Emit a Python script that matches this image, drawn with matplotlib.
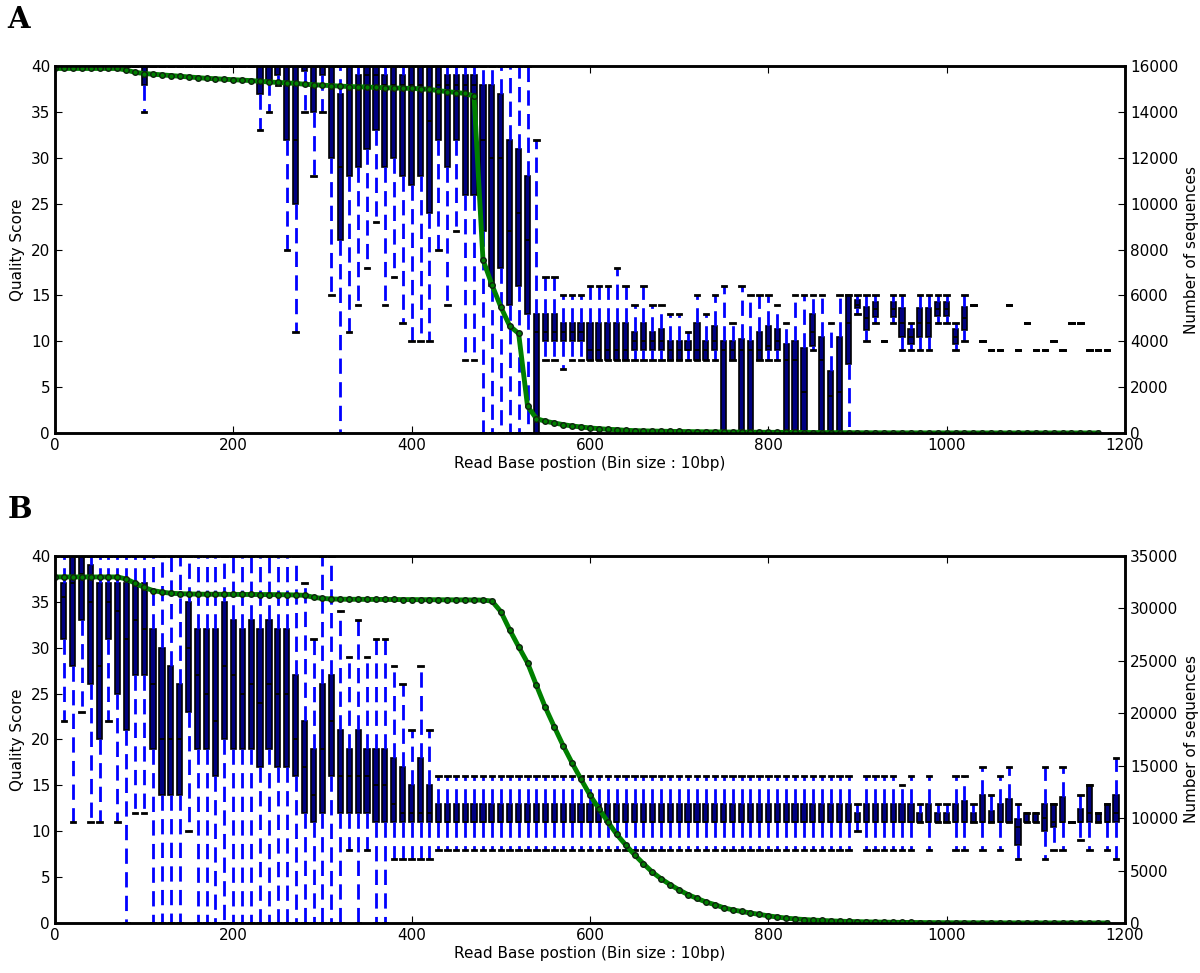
import numpy as np
import matplotlib
matplotlib.use("Agg")
import matplotlib.pyplot as plt

# ---- painel A : box por bin de 10bp (0..1180) ----
pos_a = np.arange(0, 1190, 10)

a_lo = [40, 40, 40, 40, 40, 40, 40, 40, 40, 40,
        35, 40, 40, 40, 40, 40, 40, 40, 40, 40,
        40, 40, 40, 33, 35, 38, 20, 11, 35, 28,
        35, 15, 0, 11, 14, 18, 23, 14, 17, 12,
        10, 10, 10, 20, 14, 22, 8, 8, 0, 0,
        0, 0, 0, 0, 0, 8, 8, 7, 8, 8,
        8, 8, 8, 8, 8, 8, 8, 8, 8, 8,
        8, 8, 8, 8, 8, 0, 8, 0, 0, 8,
        8, 8, 0, 0, 0, 9, 0, 0, 0, 0,
        13, 10, 12, 10, 12, 9, 9, 9, 9, 12,
        12, 9, 10, 14, 10, 9, 9, 14, 9, 12,
        9, 9, 10, 9, 12, 12, 9, 9, 9]
a_q1 = [40, 40, 40, 40, 40, 40, 40, 40, 40, 40,
        38, 40, 40, 40, 40, 40, 40, 40, 40, 40,
        40, 40, 40, 37, 38.5, 39, 32, 25, 39.5, 35,
        39, 30, 21, 28, 29, 31, 33, 29, 30, 28,
        27, 28, 24, 32, 29, 32, 26, 26, 22, 16,
        18, 14, 16, 13, 0, 10, 10, 10, 10, 10,
        8, 8, 8, 8, 8, 9, 9, 9, 9, 8,
        8, 9, 8, 8, 9, 0, 8, 0, 0, 8,
        9, 9, 0, 0, 0, 9.5, 0, 0, 0, 7.5,
        13.6, 11.2, 12.6, 10, 12.6, 10.5, 9.7, 10.5, 10.5, 12.8,
        12.8, 9.7, 11.2, 14, 10, 9, 9, 14, 9, 12,
        9, 9, 10, 9, 12, 12, 9, 9, 9]
a_med = [40, 40, 40, 40, 40, 40, 40, 40, 40, 40,
         40, 40, 40, 40, 40, 40, 40, 40, 40, 40,
         40, 40, 40, 40, 40, 40, 40, 32, 40, 40,
         40, 40, 29, 38, 38, 39, 39, 38, 38, 38,
         38, 38, 34, 38, 38, 38, 38, 38, 32, 30,
         30, 22, 24, 21, 11, 11, 11, 11, 11, 11,
         9, 9, 9, 9, 9, 10, 10, 10, 10, 9,
         9, 9, 9, 9, 10, 9, 9, 9, 9, 9,
         9.5, 10, 8, 8, 4.5, 11, 8, 4, 4.5, 12,
         14, 12.5, 13.5, 10, 13.5, 12, 10.5, 12, 12, 13.5,
         13.5, 10.5, 12.5, 14, 10, 9, 9, 14, 9, 12,
         9, 9, 10, 9, 12, 12, 9, 9, 9]
a_q3 = [40, 40, 40, 40, 40, 40, 40, 40, 40, 40,
        40, 40, 40, 40, 40, 40, 40, 40, 40, 40,
        40, 40, 40, 40, 40, 40, 40, 40, 40, 40,
        40, 40, 37, 40, 39, 40, 40, 39, 40, 39,
        40, 40, 40, 40, 39, 39, 39, 39, 38, 38,
        37, 32, 31, 28, 13, 13, 13, 12, 12, 12,
        12, 12, 12, 12, 12, 11, 12, 11, 11.3, 10,
        10, 10, 12, 10, 11.7, 10, 10, 10.3, 10, 11,
        11.7, 11.3, 9.7, 10, 9.3, 13, 10.5, 6.8, 10.5, 15,
        14.5, 13.7, 14.3, 10, 14.3, 13.6, 11.3, 13.6, 13.6, 14.3,
        14.3, 11.3, 13.7, 14, 10, 9, 9, 14, 9, 12,
        9, 9, 10, 9, 12, 12, 9, 9, 9]
a_hi = [40, 40, 40, 40, 40, 40, 40, 40, 40, 40,
        40, 40, 40, 40, 40, 40, 40, 40, 40, 40,
        40, 40, 40, 40, 40, 40, 40, 40, 40, 40,
        40, 40, 40, 40, 40, 40, 40, 40, 40, 40,
        40, 40, 40, 40, 40, 40, 40, 40, 40, 40,
        40, 40, 40, 40, 32, 17, 17, 15, 15, 15,
        16, 16, 16, 18, 16, 14, 16, 14, 14, 13,
        13, 11, 15, 13, 15, 16, 12, 16, 15, 15,
        15, 14, 12, 15, 15, 15, 15, 12, 15, 15,
        15, 15, 15, 10, 15, 15, 12, 15, 15, 15,
        15, 12, 15, 14, 10, 9, 9, 14, 9, 12,
        9, 9, 10, 9, 12, 12, 9, 9, 9]

# numero de sequencias A (0..1170)
pos_na = np.arange(0, 1180, 10)
a_count = [15900, 15900, 15900, 15900, 15900, 15900, 15900, 15900, 15830, 15730,
           15680, 15650, 15620, 15590, 15560, 15530, 15500, 15470, 15450, 15430,
           15410, 15390, 15370, 15340, 15310, 15290, 15270, 15250, 15210, 15190,
           15170, 15150, 15130, 15110, 15100, 15090, 15070, 15060, 15050, 15040,
           15030, 15010, 14990, 14930, 14890, 14850, 14810, 14690, 7560, 6470,
           5500, 4670, 4340, 1160, 625, 510, 436, 364, 305, 262,
           218, 189, 160, 145, 116, 102, 92, 84, 77, 71,
           65, 60, 55, 51, 47, 43, 40, 37, 34, 31,
           29, 27, 25, 23, 21, 19, 17, 15, 13, 12,
           10, 9, 8, 7, 6, 5, 5, 4, 4, 3,
           3, 3, 2, 2, 2, 2, 1, 1, 1, 1,
           1, 1, 1, 1, 1, 1, 1, 1]

# ---- painel B : 0..1190 ----
pos_b = np.arange(0, 1200, 10)

b_lo = ([40, 22, 11, 23, 11, 11, 22, 11, 0, 12,
         12, 0, 0, 0, 0, 10, 0, 0, 0, 0,
         0, 0, 0, 0, 0, 0, 0, 0, 0, 0,
         0, 0, 0, 8, 0, 8, 0, 0, 7, 7,
         7, 7, 7] + [8] * 47 +
        [10, 8, 8, 8, 8, 8, 8, 11, 8, 11,
         11, 8, 8, 11, 8, 11, 8, 11, 7, 11,
         11, 7, 8, 8, 11, 9, 8, 11, 8, 7])
b_q1 = ([40, 31, 28, 33, 26, 20, 31, 25, 21, 27,
         27, 19, 14, 14, 14, 23, 19, 19, 16, 20,
         19, 19, 19, 17, 19, 17, 17, 16, 12, 11,
         12, 16, 12, 12, 12, 12, 11, 11, 11, 11,
         11, 11, 11] + [11] * 47 +
        [11, 11, 11, 11, 11, 11, 11, 11, 11, 11,
         11, 11, 11, 11, 11, 11, 11, 11, 8.5, 11,
         11, 10, 10.5, 11, 11, 11, 11, 11, 11, 11])
b_med = ([40, 35.5, 37, 38, 35, 28, 35, 34, 31, 33,
          32, 26, 20, 20, 20, 30, 27, 25, 22, 28,
          27, 25, 26, 24, 26, 25, 25, 20, 17, 14,
          19, 22, 16, 16, 16, 16, 15, 15, 13, 12,
          12, 12, 12] + [11] * 47 +
         [11, 11, 11, 11, 11, 11, 11, 11, 11, 11,
          11, 11, 11, 11, 11, 11, 11, 11, 10.5, 11,
          11, 11.4, 11, 11, 11, 11, 12, 11, 11, 12])
b_q3 = ([40, 37, 40, 40, 39, 37, 37, 37, 37, 37,
         37, 32, 30, 28, 26, 35, 32, 32, 32, 35,
         33, 32, 33, 32, 33, 32, 32, 27, 22, 19,
         26, 27, 21, 19, 21, 19, 19, 19, 18, 17,
         15, 18, 15] + [13] * 47 +
        [12, 13, 13, 13, 13, 13, 13, 12, 13, 12,
         12, 13, 13.3, 12, 14, 12.2, 13, 13.5, 11.3, 12,
         12, 13, 13, 13.7, 11, 12.4, 15, 12, 13, 14])
b_hi = ([40, 40, 40, 40, 40, 40, 40, 40, 40, 40,
         40, 40, 40, 40, 40, 40, 40, 40, 40, 40,
         40, 40, 40, 40, 40, 40, 40, 40, 37, 31,
         40, 40, 34, 29, 33, 29, 31, 31, 28, 26,
         21, 28, 21] + [16] * 47 +
        [13, 16, 16, 16, 16, 15, 16, 13, 16, 13,
         13, 16, 16, 13, 17, 14, 16, 17, 13, 12,
         12, 17, 13, 17, 11, 14, 15, 12, 13, 18])

# numero de sequencias B (0..1180)
pos_nb = np.arange(0, 1190, 10)
b_count = [33000, 33000, 33000, 33000, 33000, 33000, 33000, 33000, 32800, 32400,
           32000, 31700, 31550, 31450, 31400, 31380, 31360, 31350, 31350, 31340,
           31340, 31330, 31330, 31320, 31320, 31310, 31300, 31280, 31250, 31060,
           30950, 30900, 30880, 30870, 30870, 30860, 30860, 30850, 30850, 30840,
           30840, 30830, 30830, 30820, 30820, 30810, 30810, 30800, 30790, 30700,
           29700, 27950, 26350, 24800, 22650, 20550, 18700, 16900, 15250, 13700,
           12200, 10900, 9650, 8450, 7450, 6500, 5650, 4850, 4200, 3650,
           3150, 2700, 2350, 2000, 1750, 1450, 1250, 1100, 950, 820,
           680, 570, 460, 390, 330, 280, 240, 200, 170, 145,
           125, 105, 90, 78, 66, 56, 48, 41, 35, 30,
           26, 22, 19, 16, 14, 12, 10, 9, 8, 7,
           6, 5, 4, 4, 3, 3, 2, 2, 1]

fig = plt.figure(figsize=(12, 9.73), dpi=100)


def painel(rect, pos, lo, q1, med, q3, hi, pos_n, cont, ymax2, passo2):
    ax = fig.add_axes(rect)
    stats = [dict(whislo=w1, q1=b, med=m, q3=t, whishi=w2, fliers=[])
             for w1, b, m, t, w2 in zip(lo, q1, med, q3, hi)]
    ax.bxp(stats, positions=pos, widths=5.8, capwidths=5, patch_artist=True,
           showfliers=False, manage_ticks=False,
           boxprops=dict(facecolor='#000080', edgecolor='black', linewidth=1.2),
           whiskerprops=dict(color='blue', linewidth=2, linestyle=(0, (5.5, 3))),
           capprops=dict(color='black', linewidth=2),
           medianprops=dict(color='black', linewidth=1.3))
    ax.set_xlim(0, 1200)
    ax.set_ylim(0, 40)
    ax.set_xticks(range(0, 1201, 200))
    ax.set_yticks(range(0, 41, 5))
    ax.tick_params(direction='in', top=True, length=5, labelsize=11)
    ax.set_xlabel('Read Base postion (Bin size : 10bp)', fontsize=11, labelpad=2)
    ax.set_ylabel('Quality Score', fontsize=11)

    ax2 = ax.twinx()
    ax2.plot(pos_n, cont, color='green', lw=3.5, marker='o', ms=4,
             mfc='green', mec='#102010', mew=1)
    ax2.set_ylim(0, ymax2)
    ax2.set_yticks(np.arange(0, ymax2 + 1, passo2))
    ax2.tick_params(direction='in', length=5, labelsize=11)
    ax2.set_ylabel('Number of sequences', fontsize=11)
    for a in (ax, ax2):
        for s in a.spines.values():
            s.set_linewidth(1.8)
    return ax


painel([0.0458, 0.555, 0.8917, 0.377], pos_a, a_lo, a_q1, a_med, a_q3, a_hi,
       pos_na, a_count, 16000, 2000)
painel([0.0458, 0.0514, 0.8917, 0.3772], pos_b, b_lo, b_q1, b_med, b_q3, b_hi,
       pos_nb, b_count, 35000, 5000)

fig.text(0.006, 0.995, 'A', fontsize=21, fontweight='bold', family='DejaVu Serif', va='top')
fig.text(0.006, 0.491, 'B', fontsize=21, fontweight='bold', family='DejaVu Serif', va='top')

fig.savefig('out.png', dpi=100)
